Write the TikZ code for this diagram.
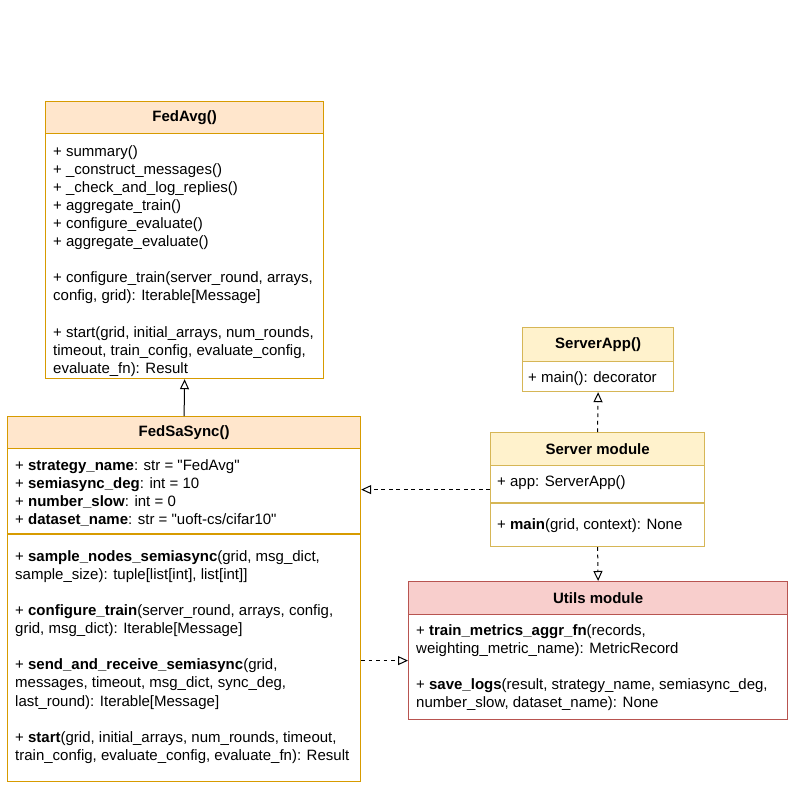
\documentclass[tikz,border=0pt]{standalone}
\usepackage{fontspec}
\setmainfont{Liberation Sans}
\usetikzlibrary{positioning,calc,arrows.meta}
\definecolor{avgfill}{HTML}{FFE6CC}
\definecolor{avgline}{HTML}{D79B00}
\definecolor{appfill}{HTML}{FFF2CC}
\definecolor{appline}{HTML}{D6B656}
\definecolor{utilfill}{HTML}{F8CECC}
\definecolor{utilline}{HTML}{B85450}
% straight double quote, past the TeX ligature mapping
\newcommand{\strq}{\XeTeXglyph\XeTeXcharglyph"22\relax}

\begin{document}
\begin{tikzpicture}[
    x=1pt, y=-1pt,
    classbox/.style={draw, fill=white, line width=1.2pt, inner sep=0pt, anchor=north west},
    classhead/.style={draw, line width=1.2pt, inner sep=0pt, anchor=north, minimum height=32pt, font=\fontsize{15}{18.1}\selectfont\bfseries},
    member/.style={anchor=base west, inner sep=0pt, align=left, font=\fontsize{15}{18.1}\selectfont},
    inherit/.style={line width=1pt, -{Triangle[open, length=10pt, width=9pt]}},
    realize/.style={inherit, dash pattern=on 3.75pt off 3.75pt},
]
\path[use as bounding box] (0,0) rectangle (794,789);
% strategy classes (member nodes sit on the baseline of their last line)
\node[classbox, draw=avgline, minimum width=278pt, minimum height=277pt] (fedavg) at (45,101) {};
\node[classhead, fill=avgfill, draw=avgline, minimum width=278pt] (fedavgHead) at (fedavg.north) {FedAvg()};
\node[member] (fedavgOps) at (53,373.2) {+ summary()\\+ \_construct\_messages()\\+ \_check\_and\_log\_replies()\\+ aggregate\_train()\\+ configure\_evaluate()\\+ aggregate\_evaluate()\\[18.1pt]+ configure\_train(server\_round, arrays,\\config, grid): Iterable[Message]\\[18.1pt]+ start(grid, initial\_arrays, num\_rounds,\\timeout, train\_config, evaluate\_config,\\evaluate\_fn): Result};

\node[classbox, draw=avgline, minimum width=353pt, minimum height=365pt] (fedsasync) at (7,416) {};
\node[classhead, fill=avgfill, draw=avgline, minimum width=353pt] (fedsasyncHead) at (fedsasync.north) {FedSaSync()};
\node[member] (fedsasyncAttr) at (15,524.8) {+ \textbf{strategy\_name}: str = \strq FedAvg\strq\\+ \textbf{semiasync\_deg}: int = 10\\+ \textbf{number\_slow}: int = 0\\+ \textbf{dataset\_name}: str = \strq uoft-cs/cifar10\strq};
\node[member] (fedsasyncOps) at (15,760.3) {+ \textbf{sample\_nodes\_semiasync}(grid, msg\_dict,\\sample\_size): tuple[list[int], list[int]]\\[18.1pt]+ \textbf{configure\_train}(server\_round, arrays, config,\\grid, msg\_dict): Iterable[Message]\\[18.1pt]+ \textbf{send\_and\_receive\_semiasync}(grid,\\messages, timeout, msg\_dict, sync\_deg,\\last\_round): Iterable[Message]\\[18.1pt]+ \textbf{start}(grid, initial\_arrays, num\_rounds, timeout,\\train\_config, evaluate\_config, evaluate\_fn): Result};
\draw[avgline, line width=1.2pt] (fedsasync.west |- 0,534) -- (fedsasync.east |- 0,534);

% server side
\node[classbox, draw=appline, minimum width=151pt, minimum height=64pt] (serverapp) at (522,327) {};
\node[classhead, fill=appfill, draw=appline, minimum width=151pt, minimum height=34pt] (serverappHead) at (serverapp.north) {ServerApp()};
\node[member] (serverappOps) at (528,382.5) {+ main(): decorator};

\node[classbox, draw=appline, minimum width=214pt, minimum height=114pt] (server) at (490,432) {};
\node[classhead, fill=appfill, draw=appline, minimum width=214pt, minimum height=33pt] (serverHead) at (server.north) {Server module};
\node[member] (serverAttr) at (497,486.5) {+ app: ServerApp()};
\node[member] (serverOps) at (497,529.5) {+ \textbf{main}(grid, context): None};
\draw[appline, line width=1.2pt] (server.west |- 0,503) -- (server.east |- 0,503);

\node[classbox, draw=utilline, minimum width=379pt, minimum height=138pt] (utils) at (408,581) {};
\node[classhead, fill=utilfill, draw=utilline, minimum width=379pt, minimum height=33pt] (utilsHead) at (utils.north) {Utils module};
\node[member] (utilsOps) at (416,707.9) {+ \textbf{train\_metrics\_aggr\_fn}(records,\\weighting\_metric\_name): MetricRecord\\[18.1pt]+ \textbf{save\_logs}(result, strategy\_name, semiasync\_deg,\\number\_slow, dataset\_name): None};

% relations
\coordinate (utilsIn) at ([yshift=-10pt]utils.west);
\draw[inherit] (fedsasync.north) -- (fedavg.south);
\draw[realize] (server.west) -- (fedsasync.east |- server.west);
\draw[realize] (server.north) -- (serverapp.south);
\draw[realize] (server.south) -- (utils.north);
\draw[realize] (fedsasync.east |- utilsIn) -- (utilsIn);
\end{tikzpicture}
\end{document}
